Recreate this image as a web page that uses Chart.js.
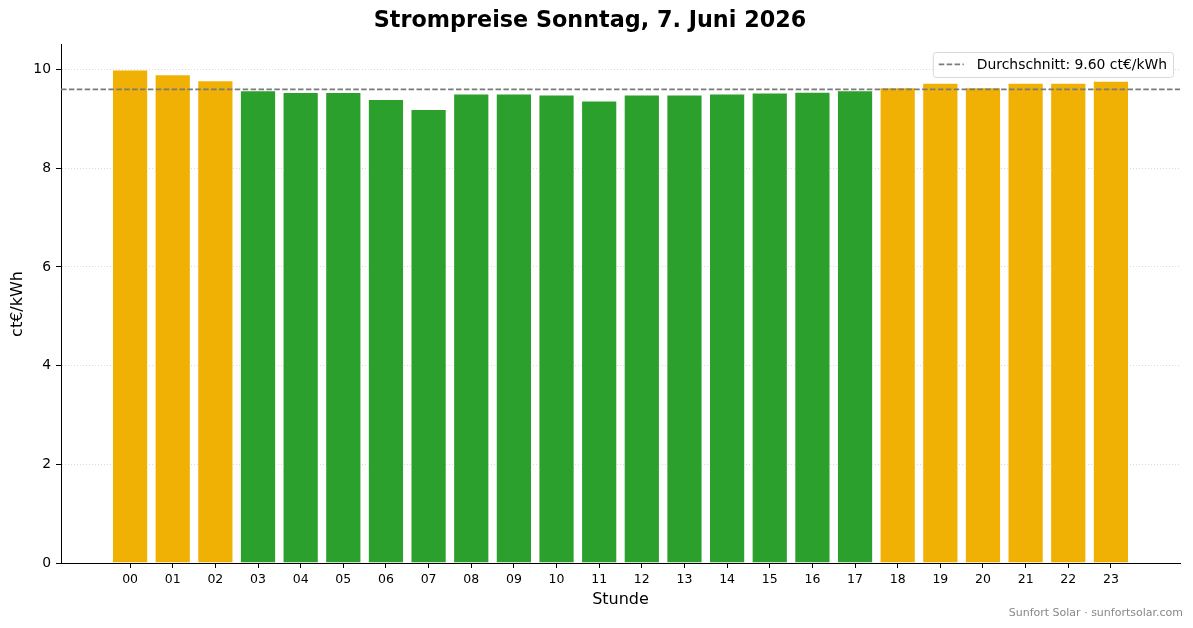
<!DOCTYPE html>
<html>
<head>
<meta charset="utf-8">
<script src="https://cdn.jsdelivr.net/npm/chart.js@4.4.1/dist/chart.umd.min.js"></script>
<style>
  html, body { margin: 0; padding: 0; background: #fff; }
  #wrap { width: 1193px; height: 628px; }
</style>
</head>
<body>
<div id="wrap"><canvas id="priceChart" width="1193" height="628"></canvas></div>
<script>
// Stunden und Preise (ct/kWh)
const hours = ['00','01','02','03','04','05','06','07','08','09','10','11',
               '12','13','14','15','16','17','18','19','20','21','22','23'];
const prices = [10.00, 9.90, 9.78, 9.58, 9.54, 9.54, 9.40, 9.20, 9.51, 9.51, 9.49, 9.37,
                9.49, 9.49, 9.51, 9.53, 9.55, 9.58, 9.64, 9.73, 9.64, 9.73, 9.73, 9.77];
// true = teure Stunde (orange), false = günstig (grün)
const expensive = [true, true, true, false, false, false, false, false, false, false, false, false,
                   false, false, false, false, false, false, true, true, true, true, true, true];
const average = 9.60;
const yTicks = [0, 2, 4, 6, 8, 10];

const ORANGE = '#f0b104';
const GREEN = '#2ca02c';
const FONT = '"DejaVu Sans", Verdana, sans-serif';

const xMin = -1.62, xMax = hours.length - 1 + 1.62;

const barData = prices.map((p, i) => ({ x: i, y: p }));
const avgData = [{ x: xMin, y: average }, { x: xMax, y: average }];

// Legende oben rechts im Plotbereich
const avgLegend = {
    id: 'avgLegend',
    afterDraw(chart) {
        const ctx = chart.ctx;
        const area = chart.chartArea;
        const text = 'Durchschnitt: ' + average.toFixed(2) + ' ct€/kWh';
        ctx.save();
        ctx.font = '13.9px ' + FONT;
        const tw = ctx.measureText(text).width;
        const w = tw + 50, h = 25;
        const x = area.right - 7 - w, y = area.top + 7;
        ctx.fillStyle = 'rgba(255,255,255,0.8)';
        ctx.strokeStyle = '#d8d8d8';
        ctx.lineWidth = 1;
        ctx.beginPath();
        ctx.roundRect(x + 0.5, y + 0.5, w, h, 3);
        ctx.fill();
        ctx.stroke();
        ctx.strokeStyle = '#7a7a7a';
        ctx.lineWidth = 1.7;
        ctx.setLineDash([5.5, 2.4]);
        ctx.beginPath();
        ctx.moveTo(x + 6, y + h / 2);
        ctx.lineTo(x + 31, y + h / 2);
        ctx.stroke();
        ctx.setLineDash([]);
        ctx.fillStyle = '#000';
        ctx.textBaseline = 'middle';
        ctx.fillText(text, x + 44, y + h / 2 + 0.5);
        ctx.restore();
    }
};

// Quelle unten rechts
const watermark = {
    id: 'watermark',
    afterDraw(chart) {
        const ctx = chart.ctx;
        ctx.save();
        ctx.font = '11px ' + FONT;
        ctx.fillStyle = '#888888';
        ctx.textAlign = 'right';
        ctx.textBaseline = 'middle';
        ctx.fillText('Sunfort Solar · sunfortsolar.com', 1183, 613);
        ctx.restore();
    }
};

const ctx = document.getElementById('priceChart').getContext('2d');
const priceChart = new Chart(ctx, {
    data: {
        datasets: [
            {
                type: 'line',
                label: 'Durchschnitt',
                data: avgData,
                borderColor: '#7a7a7a',
                borderWidth: 1.8,
                borderDash: [5.5, 2.4],
                pointRadius: 0,
                fill: false,
                order: 0
            },
            {
                type: 'bar',
                label: 'Preis',
                data: barData,
                backgroundColor: expensive.map(e => e ? ORANGE : GREEN),
                borderColor: '#ffffff',
                borderWidth: 0.8,
                categoryPercentage: 1,
                barPercentage: 0.84,
                order: 1
            }
        ]
    },
    options: {
        responsive: false,
        animation: false,
        devicePixelRatio: 1,
        layout: { padding: { left: 0, right: 13, top: 0, bottom: 0 } },
        plugins: {
            legend: { display: false },
            tooltip: { enabled: false },
            title: {
                display: true,
                text: 'Strompreise Sonntag, 7. Juni 2026',
                color: '#000',
                font: { family: FONT, size: 22.3, weight: 'bold' },
                padding: { top: 8, bottom: 10.2 }
            }
        },
        scales: {
            x: {
                type: 'linear',
                min: xMin,
                max: xMax,
                offset: false,
                afterBuildTicks: scale => { scale.ticks = hours.map((h, i) => ({ value: i })); },
                afterFit: scale => { scale.height = 65; },
                ticks: {
                    callback: (v) => hours[v],
                    color: '#000',
                    font: { family: FONT, size: 12.5 },
                    padding: 4,
                    maxRotation: 0,
                    autoSkip: false
                },
                grid: {
                    offset: false,
                    drawOnChartArea: false,
                    drawTicks: true,
                    tickLength: 5,
                    tickColor: '#000',
                    tickWidth: 1
                },
                border: { display: true, color: '#000', width: 1 },
                title: {
                    display: true,
                    text: 'Stunde',
                    color: '#000',
                    font: { family: FONT, size: 16 },
                    padding: { top: 0, bottom: 18.4 }
                }
            },
            y: {
                min: 0,
                max: 10.5,
                afterBuildTicks: scale => { scale.ticks = yTicks.map(v => ({ value: v })); },
                afterFit: scale => { scale.width = 61; },
                ticks: {
                    color: '#000',
                    font: { family: FONT, size: 13.9 },
                    padding: 5
                },
                grid: {
                    color: '#d0d0d0',
                    lineWidth: 0.8,
                    drawTicks: true,
                    tickLength: 5,
                    tickColor: '#000',
                    tickWidth: 1
                },
                border: { display: true, color: '#000', width: 1, dash: [1, 2] },
                title: {
                    display: true,
                    text: 'ct€/kWh',
                    color: '#000',
                    font: { family: FONT, size: 16 },
                    padding: { top: 8.4, bottom: 0 }
                }
            }
        }
    },
    plugins: [avgLegend, watermark]
});
</script>
</body>
</html>
